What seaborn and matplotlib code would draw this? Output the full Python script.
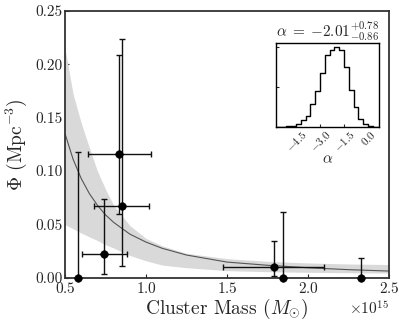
import matplotlib
matplotlib.use("Agg")
import numpy as np
import matplotlib.pyplot as plt
import seaborn as sns

# ─── DATA ───────────────────────────────────────────────────────
# cluster points, mass in 1e15 Msun
MASS      = [0.58, 0.74, 0.835, 0.85, 1.79, 1.843, 2.33]
MASS_LO   = [0.58, 0.605, 0.643, 0.68, 1.473, 1.843, 2.33]
MASS_HI   = [0.58, 0.88, 1.029, 1.018, 2.10, 1.843, 2.33]
PHI       = [0.0, 0.022, 0.116, 0.0675, 0.0106, 0.0, 0.0]
PHI_LO    = [0.0, 0.004, 0.060, 0.0115, 0.002, 0.0, 0.0]
PHI_HI    = [0.118, 0.074, 0.209, 0.224, 0.035, 0.062, 0.019]

# best-fit curve and credible band
MASS_GRID = [0.5, 0.55, 0.6, 0.65, 0.7, 0.75, 0.8, 0.9, 1.0, 1.1, 1.25, 1.5, 1.75, 2.0, 2.25, 2.5]
PHI_FIT   = [0.135, 0.111, 0.093, 0.079, 0.068, 0.059, 0.052, 0.041, 0.0335, 0.0277,
             0.0214, 0.0148, 0.0118, 0.0095, 0.0077, 0.0064]
BAND_HI   = [0.215, 0.172, 0.145, 0.122, 0.100, 0.083, 0.068, 0.049, 0.037, 0.030,
             0.023, 0.018, 0.0155, 0.014, 0.013, 0.0125]
BAND_LO   = [0.050, 0.046, 0.042, 0.0385, 0.035, 0.031, 0.028, 0.021, 0.016, 0.012,
             0.0095, 0.0068, 0.0058, 0.0052, 0.0048, 0.0045]

# posterior of the slope alpha
ALPHA_EDGES  = [-5.7, -5.4, -5.1, -4.8, -4.5, -4.2, -3.9, -3.6, -3.3, -3.0, -2.7,
                -2.4, -2.1, -1.8, -1.5, -1.2, -0.9, -0.6, -0.3, 0.0, 0.3, 0.6]
ALPHA_COUNTS = [4, 8, 17, 33, 83, 167, 283, 567, 900, 1350, 1790,
                1917, 2000, 1917, 1500, 917, 500, 208, 83, 33, 8]
# ────────────────────────────────────────────────────────────────

sns.set_style("ticks")
plt.rcParams["font.family"] = ["cmr10", "DejaVu Serif"]
plt.rcParams["mathtext.fontset"] = "cm"
plt.rcParams["axes.formatter.use_mathtext"] = True
plt.rcParams["axes.unicode_minus"] = True

fig = plt.figure(figsize=(3.99, 3.32), dpi=100)
ax = fig.add_axes([0.163, 0.163, 0.812, 0.804])

m = np.array(MASS) * 1e15
grid = np.array(MASS_GRID) * 1e15

ax.fill_between(grid, BAND_LO, BAND_HI, color="#d9d9d9", lw=0, zorder=1)
sns.lineplot(x=grid, y=PHI_FIT, color="#555555", lw=0.8, ax=ax, zorder=2)

yerr = [np.array(PHI) - np.array(PHI_LO), np.array(PHI_HI) - np.array(PHI)]
xerr = [m - np.array(MASS_LO) * 1e15, np.array(MASS_HI) * 1e15 - m]
ax.errorbar(m, PHI, yerr=yerr, xerr=xerr, fmt="none", ecolor="#111111",
            elinewidth=1.0, capsize=2.0, capthick=1.0, zorder=3)
sns.scatterplot(x=m, y=PHI, color="black", s=30, edgecolor="black", ax=ax,
                zorder=4, clip_on=False)

ax.set_xlim(0.5e15, 2.5e15)
ax.set_ylim(0, 0.25)
ax.set_xticks(np.array([0.5, 1.0, 1.5, 2.0, 2.5]) * 1e15)
ax.set_yticks([0.0, 0.05, 0.10, 0.15, 0.20, 0.25])
ax.yaxis.set_major_formatter(plt.FormatStrFormatter("%.2f"))
ax.tick_params(direction="in", length=3, labelsize=11, pad=2)
ax.xaxis.get_offset_text().set_fontsize(11)
for s in ax.spines.values():
    s.set_linewidth(1.3)
    s.set_color("#333333")
ax.set_xlabel(r"Cluster Mass ($M_{\odot}$)", fontsize=14, labelpad=1)
ax.set_ylabel(r"$\Phi$ (Mpc$^{-3}$)", fontsize=14, labelpad=4)

# inset: slope posterior
ins = fig.add_axes([0.691, 0.618, 0.259, 0.253])
centers = [(a + b) / 2 for a, b in zip(ALPHA_EDGES[:-1], ALPHA_EDGES[1:])]
sns.histplot(x=centers, weights=ALPHA_COUNTS, bins=ALPHA_EDGES, element="step",
             fill=False, color="black", lw=1.0, ax=ins)
ins.set_xlim(-5.77, 0.69)
ins.set_ylim(0, 2100)
ins.set_xticks([-4.5, -3.0, -1.5, 0.0])
ins.set_yticks([0, 1000, 2000])
ins.set_yticklabels([])
ins.set_ylabel("")
ins.tick_params(direction="in", length=2, labelsize=8, pad=1)
for lab in ins.get_xticklabels():
    lab.set_rotation(45)
ins.set_xlabel(r"$\alpha$", fontsize=11, labelpad=-1)
ins.set_title(r"$\alpha\;=\;{-}2.01^{+0.78}_{-0.86}$", fontsize=11, pad=3)
for s in ins.spines.values():
    s.set_linewidth(1.0)
    s.set_color("black")

fig.savefig("out.png", dpi=100)
